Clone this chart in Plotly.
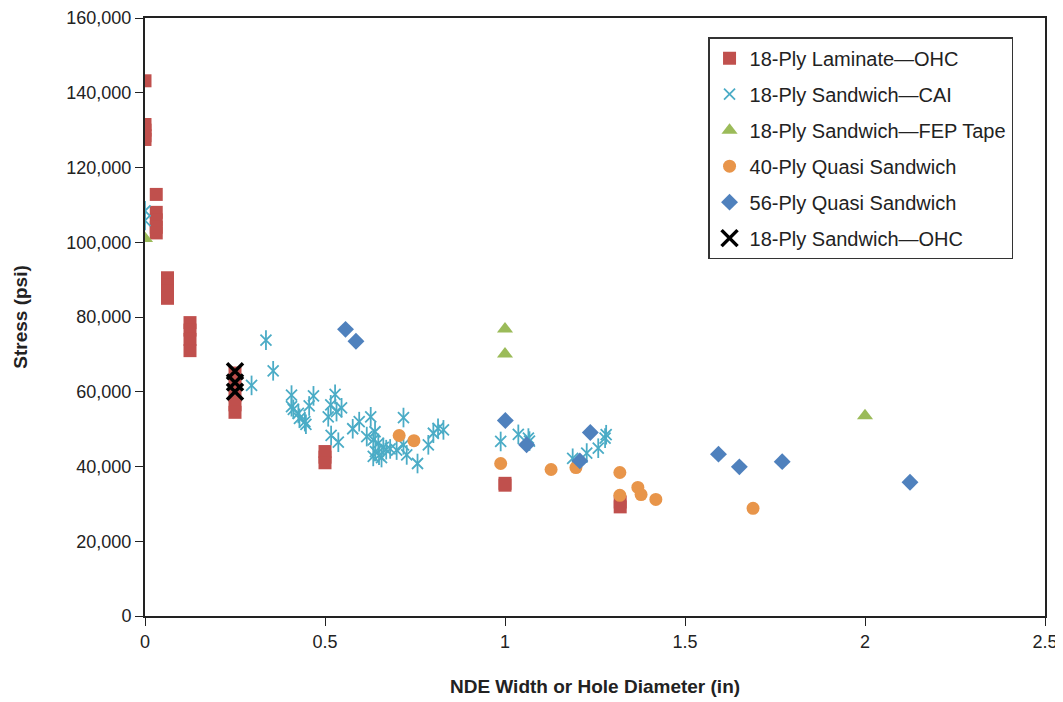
import plotly.graph_objects as go

# 18-Ply Laminate—OHC
lam_x = [0, 0, 0, 0, 0, 0.03125, 0.03125, 0.03125, 0.03125, 0.03125,
         0.0625, 0.0625, 0.0625, 0.0625, 0.125, 0.125, 0.125, 0.125,
         0.25, 0.25, 0.25, 0.25, 0.25, 0.5, 0.5, 0.5, 1.0, 1.0, 1.32, 1.32]
lam_y = [143200, 131500, 130000, 128500, 127500, 112800, 108000, 106000, 104000, 102500,
         90500, 88500, 87000, 85000, 78500, 76500, 74000, 71000,
         65000, 62000, 59000, 56500, 54500, 44000, 42500, 41000, 35500, 35000, 30500, 29200]

# 18-Ply Sandwich—CAI
cai_x = [0.0, 0.0, 0.296, 0.336, 0.356, 0.407, 0.407, 0.412, 0.426, 0.429, 0.444, 0.447,
         0.456, 0.468, 0.509, 0.516, 0.517, 0.528, 0.532, 0.537, 0.546,
         0.577, 0.595, 0.616, 0.627, 0.634, 0.634, 0.639, 0.640, 0.648, 0.650, 0.657, 0.662,
         0.670, 0.681, 0.699, 0.718, 0.718, 0.727, 0.757,
         0.787, 0.801, 0.814, 0.829, 0.988, 1.037, 1.065, 1.068,
         1.188, 1.227, 1.259, 1.278, 1.281]
cai_y = [108400, 105800, 61700, 73800, 65600, 59100, 56000, 55300, 54200, 52900, 52000, 51300,
         56200, 58900, 53300, 56500, 48300, 59300, 54700, 46500, 55700,
         50100, 52000, 48000, 53300, 47100, 42700, 49300, 44000, 46200, 43000, 42400, 45100,
         44500, 44700, 44400, 53100, 45800, 43100, 40800,
         45800, 48900, 50200, 49800, 46700, 48600, 47600, 46800,
         42200, 43600, 44900, 47600, 48500]

# 18-Ply Sandwich—FEP Tape
fep_x = [0.0, 1.0, 1.0, 2.0]
fep_y = [101000, 76800, 70100, 53600]

# 40-Ply Quasi Sandwich
q40_x = [0.706, 0.747, 0.988, 1.128, 1.197, 1.319, 1.319, 1.369, 1.378, 1.419, 1.689]
q40_y = [48300, 46900, 40800, 39200, 39700, 38400, 32300, 34400, 32500, 31200, 28800]

# 56-Ply Quasi Sandwich
q56_x = [0.557, 0.586, 1.001, 1.06, 1.237, 1.208, 1.593, 1.651, 1.770, 2.125]
q56_y = [76700, 73500, 52300, 45800, 49100, 41500, 43300, 39900, 41300, 35800]

# 18-Ply Sandwich—OHC
sohc_x = [0.25, 0.25, 0.25]
sohc_y = [65500, 62500, 60000]

names = ["18-Ply Laminate—OHC", "18-Ply Sandwich—CAI", "18-Ply Sandwich—FEP Tape",
         "40-Ply Quasi Sandwich", "56-Ply Quasi Sandwich", "18-Ply Sandwich—OHC"]

x_ticks = [0, 0.5, 1, 1.5, 2, 2.5]
x_tick_labels = ["0", "0.5", "1", "1.5", "2", "2.5"]

RED = "#C0504D"
TEAL = "#4BACC6"
GREEN = "#9BBB59"
ORANGE = "#E8954A"
BLUE = "#4F81BD"

fig = go.Figure()
fig.add_trace(go.Scatter(x=lam_x, y=lam_y, mode="markers", name=names[0], legendgroup="a",
                         marker=dict(symbol="square", size=13, color=RED)))
fig.add_trace(go.Scatter(x=cai_x, y=cai_y, mode="markers", name=names[1], legendgroup="b",
                         marker=dict(symbol="x-thin-open", size=11, color=TEAL,
                                     line=dict(color=TEAL, width=1.8))))
fig.add_trace(go.Scatter(x=cai_x, y=cai_y, mode="markers", name=names[1], legendgroup="b",
                         showlegend=False,
                         marker=dict(symbol="line-ns-open", size=14, color=TEAL,
                                     line=dict(color=TEAL, width=1.8))))
fig.add_trace(go.Scatter(x=fep_x, y=fep_y, mode="markers", name=names[2], legendgroup="c",
                         marker=dict(symbol="triangle-up", size=14, color=GREEN)))
fig.add_trace(go.Scatter(x=q40_x, y=q40_y, mode="markers", name=names[3], legendgroup="d",
                         marker=dict(symbol="circle", size=13, color=ORANGE)))
fig.add_trace(go.Scatter(x=q56_x, y=q56_y, mode="markers", name=names[4], legendgroup="e",
                         marker=dict(symbol="diamond", size=13, color=BLUE)))
fig.add_trace(go.Scatter(x=sohc_x, y=sohc_y, mode="markers", name=names[5], legendgroup="f",
                         marker=dict(symbol="x-thin-open", size=16, color="black",
                                     line=dict(color="black", width=3.5))))

tickfont = dict(family="Liberation Sans Narrow, Arial Narrow, Liberation Sans", size=18, color="#222")
titlefont = dict(family="Liberation Sans Narrow, Arial Narrow, Liberation Sans", size=19, color="#222",
                 weight="bold")

fig.update_layout(
    width=1055, height=694,
    margin=dict(l=137, r=18, t=10, b=86),
    paper_bgcolor="white", plot_bgcolor="white",
    legend=dict(x=0.6256, y=0.968, xanchor="left", yanchor="top",
                bordercolor="#333", borderwidth=1.5, bgcolor="white",
                font=dict(family="Liberation Sans, Arial", size=20, color="#222"),
                tracegroupgap=7, traceorder="grouped"),
    xaxis=dict(range=[0, 2.5], tickvals=x_ticks, ticktext=x_tick_labels,
               showgrid=False, zeroline=False, automargin=False, ticklabeloverflow="allow",
               showline=True, linecolor="#222", linewidth=2, mirror=True,
               ticks="outside", ticklen=8, tickcolor="#222", tickwidth=1,
               tickfont=tickfont,
               title=dict(text="NDE Width or Hole Diameter (in)", font=titlefont, standoff=29)),
    yaxis=dict(range=[0, 160000], dtick=20000, showgrid=False, zeroline=False, automargin=False,
               ticklabeloverflow="allow",
               showline=True, linecolor="#222", linewidth=2, mirror=True,
               ticks="outside", ticklen=8, tickcolor="#222", tickwidth=1,
               tickfont=tickfont, tickformat=",d",
               title=dict(text="Stress (psi)", font=titlefont, standoff=34)),
    showlegend=True,
)

fig.write_html("out.html")
